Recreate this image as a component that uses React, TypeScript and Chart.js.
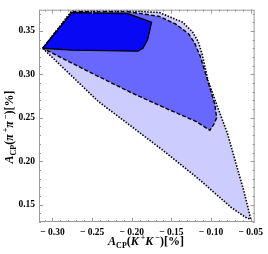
import { useEffect, useRef } from 'react';
import { Chart, registerables } from 'chart.js';
Chart.register(...registerables);

// Outer (light, dotted) region
const outerX = [-0.3123, -0.2755, -0.2056, -0.1652, -0.1358, -0.1235, -0.1162, -0.1113, -0.1039, -0.0917, -0.0794, -0.0586, -0.0525, -0.05, -0.0549, -0.0745, -0.1162, -0.1603, -0.202, -0.2424, -0.2792, -0.3123];
const outerY = [0.33, 0.3733, 0.3733, 0.3711, 0.36, 0.3489, 0.3378, 0.3233, 0.2933, 0.2622, 0.2322, 0.1656, 0.1433, 0.1333, 0.1344, 0.1467, 0.18, 0.2122, 0.2411, 0.2689, 0.3011, 0.33];

// Middle (medium, dashed) region
const midX = [-0.3123, -0.2755, -0.2056, -0.1652, -0.1444, -0.1284, -0.1211, -0.1137, -0.0953, -0.0929, -0.0966, -0.1015, -0.1186, -0.1603, -0.2007, -0.2571, -0.3123];
const midY = [0.33, 0.3722, 0.3722, 0.3667, 0.3578, 0.3467, 0.3367, 0.3211, 0.2656, 0.25, 0.2422, 0.2356, 0.2456, 0.2622, 0.2789, 0.3044, 0.33];

// Inner (dark, solid) region
const innerX = [-0.3123, -0.2755, -0.2056, -0.175, -0.1799, -0.1835, -0.186, -0.1922, -0.2755, -0.3123];
const innerY = [0.33, 0.3711, 0.37, 0.36, 0.34, 0.334, 0.33, 0.3267, 0.3278, 0.33];

const xRange = [-0.317, -0.045];
const yRange = [0.13, 0.3744];
const xStep = 0.05;
const yStep = 0.05;
const minorStep = 0.01;

const pts = (xs: number[], ys: number[]) => xs.map((x, i) => ({ x, y: ys[i] }));

const SERIF = '"Liberation Serif", "DejaVu Serif", serif';

type Seg = { t: string; size: number; italic?: boolean; dy?: number };

const xTitle: Seg[] = [
  { t: 'A', size: 12, italic: true },
  { t: 'CP', size: 8, dy: 2.5 },
  { t: '(', size: 12 },
  { t: 'K', size: 12, italic: true },
  { t: ' +', size: 8, dy: -5 },
  { t: 'K', size: 12, italic: true },
  { t: ' \u2212', size: 8, dy: -5 },
  { t: ')[%]', size: 12 },
];
const yTitle: Seg[] = [
  { t: 'A', size: 12, italic: true },
  { t: 'CP', size: 8, dy: 2.5 },
  { t: '(', size: 12 },
  { t: '\u03c0', size: 12, italic: true },
  { t: ' +', size: 8, dy: -5 },
  { t: '\u03c0', size: 12, italic: true },
  { t: ' \u2212', size: 8, dy: -5 },
  { t: ')[%]', size: 12 },
];

function drawSegs(ctx: CanvasRenderingContext2D, segs: Seg[], cx: number, baseline: number) {
  const fontOf = (s: Seg) => `${s.italic ? 'italic ' : ''}bold ${s.size}px ${SERIF}`;
  let total = 0;
  segs.forEach((s) => {
    ctx.font = fontOf(s);
    total += ctx.measureText(s.t).width;
  });
  let x = cx - total / 2;
  ctx.textBaseline = 'alphabetic';
  ctx.textAlign = 'left';
  segs.forEach((s) => {
    ctx.font = fontOf(s);
    ctx.fillText(s.t, x, baseline + (s.dy || 0));
    x += ctx.measureText(s.t).width;
  });
}

const framePlugin = {
  id: 'frameTicks',
  afterDraw(chart: any) {
    const { ctx, chartArea: a, scales } = chart;
    const xs = scales.x;
    const ys = scales.y;
    ctx.save();
    ctx.strokeStyle = '#9a9a9a';
    ctx.lineWidth = 1;
    ctx.strokeRect(a.left + 0.5, a.top + 0.5, a.right - a.left - 1, a.bottom - a.top - 1);
    ctx.beginPath();
    const kx0 = Math.ceil(xRange[0] / minorStep - 1e-6);
    const kx1 = Math.floor(xRange[1] / minorStep + 1e-6);
    for (let k = kx0; k <= kx1; k++) {
      const v = k * minorStep;
      const px = Math.round(xs.getPixelForValue(v)) + 0.5;
      const len = k % 5 === 0 ? 4 : 2;
      ctx.moveTo(px, a.bottom);
      ctx.lineTo(px, a.bottom - len);
      ctx.moveTo(px, a.top);
      ctx.lineTo(px, a.top + len);
    }
    const ky0 = Math.ceil(yRange[0] / minorStep - 1e-6);
    const ky1 = Math.floor(yRange[1] / minorStep + 1e-6);
    for (let k = ky0; k <= ky1; k++) {
      const v = k * minorStep;
      const py = Math.round(ys.getPixelForValue(v)) + 0.5;
      const len = k % 5 === 0 ? 4 : 2;
      ctx.moveTo(a.left, py);
      ctx.lineTo(a.left + len, py);
      ctx.moveTo(a.right, py);
      ctx.lineTo(a.right - len, py);
    }
    ctx.stroke();

    ctx.fillStyle = '#000';
    drawSegs(ctx, xTitle, 146, 245);
    ctx.translate(13, 127);
    ctx.rotate(-Math.PI / 2);
    drawSegs(ctx, yTitle, 0, 0);
    ctx.restore();
  },
};

const fmt = (v: number) => {
  const s = Math.abs(v).toFixed(2);
  return v < 0 ? '\u2212 ' + s : s;
};

export default function App() {
  const ref = useRef<HTMLCanvasElement>(null);
  useEffect(() => {
    if (!ref.current) return;
    const chart = new Chart(ref.current, {
      type: 'scatter',
      data: {
        datasets: [
          {
            data: pts(innerX, innerY),
            showLine: true,
            fill: 'shape',
            backgroundColor: 'rgb(8,8,245)',
            borderColor: '#000',
            borderWidth: 1.3,
            pointRadius: 0,
            tension: 0,
            order: 0,
          },
          {
            data: pts(midX, midY),
            showLine: true,
            fill: 'shape',
            backgroundColor: 'rgb(104,104,255)',
            borderColor: '#000',
            borderWidth: 1.4,
            borderDash: [4, 2],
            pointRadius: 0,
            tension: 0,
            order: 1,
          },
          {
            data: pts(outerX, outerY),
            showLine: true,
            fill: 'shape',
            backgroundColor: 'rgb(204,204,255)',
            borderColor: '#000',
            borderWidth: 1.6,
            borderDash: [1.5, 1.5],
            pointRadius: 0,
            tension: 0,
            order: 2,
          },
        ] as any,
      },
      options: {
        animation: false,
        responsive: false,
        devicePixelRatio: 1,
        layout: { padding: { top: 2, right: 6, left: 0, bottom: 0 } },
        plugins: { legend: { display: false }, tooltip: { enabled: false } },
        scales: {
          x: {
            type: 'linear',
            min: xRange[0],
            max: xRange[1],
            afterFit: (s: any) => {
              s.height = 32;
            },
            grid: { display: false, drawTicks: false },
            border: { display: false },
            ticks: {
              stepSize: xStep,
              includeBounds: false,
              padding: 5,
              color: '#000',
              maxRotation: 0,
              autoSkip: false,
              font: { family: SERIF, size: 9.5, weight: 'bold' },
              callback: (v: any) => fmt(Number(v)),
            },
          },
          y: {
            type: 'linear',
            min: yRange[0],
            max: yRange[1],
            afterFit: (s: any) => {
              s.width = 39;
            },
            grid: { display: false, drawTicks: false },
            border: { display: false },
            ticks: {
              stepSize: yStep,
              includeBounds: false,
              padding: 4,
              color: '#000',
              autoSkip: false,
              font: { family: SERIF, size: 9.5, weight: 'bold' },
              callback: (v: any) => fmt(Number(v)),
            },
          },
        },
      } as any,
      plugins: [framePlugin],
    });
    return () => chart.destroy();
  }, []);
  return (
    <div style={{ position: 'fixed', left: 0, top: 0, width: 268, height: 254, background: '#fff' }}>
      <canvas ref={ref} width={268} height={254} />
    </div>
  );
}
